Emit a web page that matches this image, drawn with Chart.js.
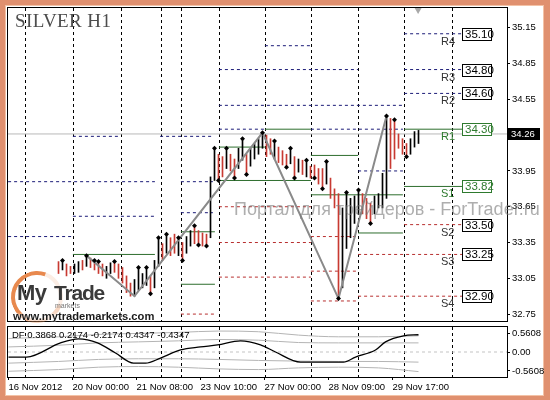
<!DOCTYPE html>
<html><head><meta charset="utf-8">
<script src="https://cdn.jsdelivr.net/npm/chart.js@4.4.1/dist/chart.umd.min.js"></script>
<style>
html,body{margin:0;padding:0;}
body{width:550px;height:400px;overflow:hidden;position:relative;background:#e0906f;font-family:"Liberation Sans",Arial,sans-serif;}
#inner{position:absolute;left:6px;top:6px;width:537px;height:389px;background:#fff;box-shadow:0 0 0 1px #f3c2a6;}
#c1{position:absolute;left:0;top:0;}
#c2{position:absolute;left:0;top:326px;}
.ov{position:absolute;white-space:nowrap;pointer-events:none;}
#title{left:15px;top:11px;font-family:"Liberation Serif","Times New Roman",serif;font-size:19px;line-height:19px;color:#4d4d4d;letter-spacing:0.4px;}
#wm{left:234px;top:200px;font-size:18px;line-height:18px;color:rgba(120,120,120,0.6);}
#ring{left:11px;top:271px;width:44px;height:44px;border-radius:50%;border:4px solid #e8894e;border-right-color:rgba(232,137,78,0.15);border-bottom-color:rgba(232,137,78,0.35);transform:rotate(-25deg);}
#my{left:17px;top:282px;font-size:22px;line-height:22px;font-weight:bold;color:#3a3a3a;letter-spacing:-0.5px;}
#trade{left:54px;top:282px;font-size:21px;line-height:22px;font-weight:bold;color:#3a3a3a;letter-spacing:-1.2px;}
#mk{left:55px;top:302px;font-size:7px;line-height:7px;color:#777;}
#www{left:13px;top:310px;font-size:11.2px;line-height:12px;font-weight:bold;color:#1a1a1a;text-shadow:0 0 2px #fff,0 0 2px #fff;}
#df{left:12px;top:330px;font-size:9.5px;line-height:10px;color:#000;}
</style></head>
<body>
<div id="inner"></div>
<canvas id="c1" width="550" height="325"></canvas>
<canvas id="c2" width="550" height="74"></canvas>
<div class="ov" id="title">SILVER H1</div>
<div class="ov" id="wm">Портал для трейдеров - ForTrader.ru</div>
<div class="ov" id="ring"></div>
<div class="ov" id="my">My</div>
<div class="ov" id="trade">Trade</div>
<div class="ov" id="mk">markets</div>
<div class="ov" id="www">www.mytrademarkets.com</div>
<div class="ov" id="df">DF 0.3868 0.2174 -0.2174 0.4347 -0.4347</div>
<script>
// ---------- data ----------
const X_MIN = -12.625, X_MAX = 112.125;
const barHigh = [33.19,33.20,33.17,33.15,33.17,33.19,33.20,33.24,33.22,33.20,
 33.19,33.17,33.15,33.18,33.19,33.17,33.14,33.07,33.01,33.04,
 33.14,33.09,33.14,33.07,33.20,33.39,33.34,33.42,33.39,33.42,
 33.39,33.35,33.40,33.45,33.49,33.45,33.43,33.42,33.90,34.14,
 34.09,34.07,34.14,34.09,34.05,34.14,34.22,34.09,34.14,34.18,
 34.22,34.27,34.25,34.22,34.20,34.15,34.12,34.09,34.14,34.07,
 34.05,34.04,34.04,33.99,34.00,33.97,33.97,34.03,33.89,33.80,
 33.76,33.64,33.77,33.72,33.74,33.79,33.76,33.72,33.68,33.74,
 33.76,33.93,34.41,34.39,34.38,34.26,34.22,34.18,34.22,34.28,
 34.29];
const barLow = [33.09,33.12,33.07,33.09,33.09,33.10,33.12,33.15,33.14,33.12,
 33.09,33.07,33.05,33.09,33.10,33.05,33.01,32.93,32.90,32.90,
 32.95,32.97,32.99,32.92,32.97,33.15,33.20,33.26,33.24,33.26,
 33.24,33.20,33.26,33.32,33.34,33.33,33.32,33.32,33.39,33.87,
 33.87,33.90,33.97,33.95,33.89,33.97,34.04,33.92,33.99,34.05,
 34.09,34.14,34.07,34.09,34.05,34.02,34.00,33.98,34.01,33.89,
 33.94,33.92,33.90,33.89,33.89,33.84,33.80,33.84,33.72,33.64,
 32.88,32.97,33.30,33.39,33.51,33.59,33.59,33.55,33.51,33.59,
 33.64,33.64,33.72,33.97,34.05,34.14,34.09,34.07,34.09,34.15,
 34.18];
const barRise = [0,1,0,0,1,1,0,1,0,0,
 0,0,1,1,0,0,0,0,0,1,
 1,1,1,0,1,1,0,1,0,0,
 1,0,1,1,0,0,0,0,1,1,
 0,0,1,0,0,1,1,0,1,1,
 1,1,0,0,1,0,0,0,1,0,
 1,0,1,0,0,0,0,1,0,0,
 0,1,1,1,1,1,0,0,0,1,
 1,1,1,0,0,0,0,0,1,1,
 1];
const lastPrice = 34.26;
const priceTicks = [35.15,34.85,34.55,33.95,33.65,33.35,33.05,32.75];
const daySeps = [-8.4,3.6,15.6,25.6,30.6,40.1,51.6,63.1,74.9,86.4,98.4];
const xTickPos = [-12.5,3.5,19.5,35.5,51.5,67.5,83.5];
const xTickLabels = ['16 Nov 2012','20 Nov 00:00','21 Nov 08:00','23 Nov 10:00','27 Nov 00:00','28 Nov 09:00','29 Nov 17:00'];

const resistSegs = [[-12.6,3.6,33.40],[-12.6,24.1,33.86],[3.6,15.6,34.24],[3.6,24.1,33.57],[25.4,38.6,34.24],[30.6,38.6,33.60],[30.6,38.6,33.86],[40.1,51.6,34.30],[40.1,86.1,34.50],[40.1,74.9,34.80],[51.6,63.1,35.00],[63.1,86.1,34.30],[74.9,86.1,33.95],[86.4,100.9,35.10],[86.4,100.9,34.80],[86.4,100.9,34.60]];
const pivotSegs = [[3.6,24.1,33.25],[30.6,39.1,33.44],[30.6,39.1,33.00],[40.1,51.6,34.15],[40.1,63.1,33.87],[51.6,63.1,34.30],[63.1,74.9,34.08],[63.1,86.1,33.75],[74.9,86.1,33.43],[86.4,100.9,34.30],[86.4,100.9,33.82]];
const supportSegs = [[30.6,39.1,32.75],[40.1,63.1,33.65],[40.1,63.1,33.35],[40.1,63.1,33.06],[63.1,74.9,33.40],[63.1,74.9,33.11],[63.1,74.9,32.86],[74.9,100.9,33.25],[74.9,100.9,32.90],[86.4,100.9,33.50]];

const levelVals = [35.10,34.80,34.60,34.30,33.82,33.50,33.25,32.90];
const levelNames = ['R4','R3','R2','R1','S1','S2','S3','S4'];
const levelBoxAt = 100.9, levelNameAt = 95.6;

const zzX = [7,19,51,70,82];
const zzY = [33.24,32.90,34.27,32.88,34.41];
const fracHiX = [1,7,9,10,14,20,22,25,27,30,34,39,42,46,51,54,58,62,67,72,75,82,84];
const fracHiY = [33.20,33.24,33.20,33.19,33.19,33.14,33.14,33.39,33.42,33.39,33.49,34.14,34.14,34.22,34.27,34.20,34.14,34.04,34.03,33.77,33.79,34.41,34.38];
const fracLoX = [23,31,35,37,40,44,47,57,59,64,66,70,78,87];
const fracLoY = [32.92,33.20,33.33,33.32,33.87,33.89,33.92,33.98,33.89,33.89,33.80,32.88,33.51,34.07];

const dfX = [-12.5,-8,0.5,5,9.75,14.25,18.75,21.75,25.5,30.5,35.5,39.75,45.5,50.5,54.25,60.5,71.25,74.25,79.25,81.75,86.25,90];
const dfY = [-0.15,-0.15,0.27,0.39,0.27,-0.03,-0.33,-0.33,-0.18,0.06,0.15,0.21,0.33,0.21,0.0,-0.30,-0.30,-0.15,0.06,0.30,0.48,0.51];
const bandX = [-12.5,0,10,20,30,40,50,60,70,80,90];
const bandUpperOuter = [0.40,0.45,0.52,0.55,0.58,0.62,0.60,0.50,0.45,0.45,0.48];
const bandUpperInner = [0.15,0.20,0.27,0.30,0.33,0.37,0.35,0.28,0.27,0.27,0.27];
const bandLowerInner = [-0.33,-0.28,-0.22,-0.20,-0.20,-0.22,-0.25,-0.27,-0.28,-0.28,-0.30];
const bandLowerOuter = [-0.57,-0.52,-0.45,-0.43,-0.45,-0.50,-0.52,-0.47,-0.45,-0.47,-0.58];
const dfTicks = [0.5608,0,-0.5608];

// ---------- chart ----------
const FONT = '"Liberation Sans", Arial, sans-serif';
Chart.defaults.font.family = FONT;

const segDatasets = [];
function addSegs(list, color, dash) {
  list.forEach(s => segDatasets.push({type:'line', data:[{x:s[0],y:s[2]},{x:s[1],y:s[2]}], borderColor:color, borderWidth:1, borderDash:dash, pointRadius:0, order:5}));
}
addSegs(resistSegs, '#1c1c78', [3,3]);
addSegs(pivotSegs, '#2e6e2e', []);
addSegs(supportSegs, '#b83030', [3,3]);

function drawSeps(chart) {
  const {ctx, chartArea:a, scales:{x}} = chart;
  ctx.save();
  ctx.strokeStyle = '#000'; ctx.lineWidth = 1; ctx.setLineDash([3,3]);
  daySeps.forEach(v => {
    const px = Math.round(x.getPixelForValue(v)) + 0.5;
    ctx.beginPath(); ctx.moveTo(px, a.top); ctx.lineTo(px, a.bottom); ctx.stroke();
  });
  ctx.restore();
}
function drawBorder(chart) {
  const {ctx, chartArea:a} = chart;
  ctx.save(); ctx.strokeStyle = '#000'; ctx.lineWidth = 1; ctx.setLineDash([]);
  ctx.strokeRect(a.left - 0.5, a.top - 0.5, a.right - a.left + 1, a.bottom - a.top + 1);
  ctx.restore();
}

const mainDeco = {
  id: 'mainDeco',
  beforeDatasetsDraw: drawSeps,
  afterDraw(chart) {
    drawBorder(chart);
    const {ctx, chartArea:a, scales:{x, y}} = chart;
    ctx.save();
    ctx.setLineDash([]); ctx.lineWidth = 1;
    ctx.textBaseline = 'middle'; ctx.textAlign = 'left';
    const bx = Math.round(x.getPixelForValue(levelBoxAt));
    const nx = Math.round(x.getPixelForValue(levelNameAt));
    levelVals.forEach((v, i) => {
      const py = Math.round(y.getPixelForValue(v));
      const green = levelNames[i] === 'R1' || levelNames[i] === 'S1';
      const col = green ? '#2e7a2e' : '#000';
      ctx.fillStyle = '#fff'; ctx.fillRect(bx, py - 6, 30, 13);
      ctx.strokeStyle = col; ctx.strokeRect(bx + 0.5, py - 5.5, 29, 12);
      ctx.font = '11.5px ' + FONT;
      ctx.fillStyle = col; ctx.fillText(v.toFixed(2), bx + 3, py + 1);
      ctx.font = '11px ' + FONT;
      ctx.fillStyle = green ? '#2e7a2e' : '#333';
      ctx.fillText(levelNames[i], nx, py + 8);
    });
    const cy = Math.round(y.getPixelForValue(lastPrice));
    ctx.fillStyle = '#000'; ctx.fillRect(a.right + 1, cy - 6, 32, 12);
    ctx.fillStyle = '#fff'; ctx.font = '9.5px ' + FONT;
    ctx.fillText(lastPrice.toFixed(2), a.right + 4, cy);
    ctx.restore();
  }
};

const datasets = [
  {type:'line', data: fracHiX.map((v,i)=>({x:v,y:fracHiY[i]})), showLine:false, pointStyle:'rectRot', pointRadius:2.5, pointBackgroundColor:'#000', pointBorderWidth:0, order:0},
  {type:'line', data: fracLoX.map((v,i)=>({x:v,y:fracLoY[i]})), showLine:false, pointStyle:'rectRot', pointRadius:2.5, pointBackgroundColor:'#000', pointBorderWidth:0, order:0},
  {type:'line', data: zzX.map((v,i)=>({x:v,y:zzY[i]})), borderColor:'#8a8a8a', borderWidth:2, pointRadius:0, tension:0, order:1},
  {type:'bar', data: barHigh.map((h,i)=>({x:i, y:[barLow[i], h]})), backgroundColor: barRise.map(r => r ? '#000' : '#c83a32'), barThickness:1, borderWidth:0, order:2},
  {type:'line', data:[{x:X_MIN,y:lastPrice},{x:X_MAX,y:lastPrice}], borderColor:'#b8b8b8', borderWidth:1, pointRadius:0, order:4},
  {type:'line', data:[{x:89.9,y:35.30}], showLine:false, pointStyle:'triangle', rotation:180, pointRadius:4, pointBackgroundColor:'#a8a8a8', pointBorderWidth:0, clip:false, order:0},
  ...segDatasets
];

new Chart(document.getElementById('c1'), {
  type: 'bar',
  data: { datasets },
  options: {
    responsive:false, animation:false, devicePixelRatio:1,
    layout:{padding:{left:8, top:8, right:0, bottom:1}},
    plugins:{legend:{display:false}, tooltip:{enabled:false}},
    scales:{
      x:{type:'linear', min:X_MIN, max:X_MAX, display:false, offset:false},
      y:{position:'right', min:32.692, max:35.316,
         afterFit: s => { s.width = 43; s.paddingTop = 0; s.paddingBottom = 0; },
         afterBuildTicks: s => { s.ticks = priceTicks.map(v => ({value:v})); },
         ticks:{color:'#000', font:{size:9.5}, padding:2, callback: v => Number(v).toFixed(2)},
         grid:{drawOnChartArea:false, drawTicks:true, tickLength:3, color:'#000'},
         border:{display:false}}
    }
  },
  plugins:[mainDeco]
});

const indDeco = { id:'indDeco', beforeDatasetsDraw: drawSeps, afterDraw: drawBorder };

function bandSet(vals) {
  return {data: bandX.map((v,i)=>({x:v,y:vals[i]})), borderColor:'#b4b4b4', borderWidth:1, pointRadius:0, cubicInterpolationMode:'monotone', order:2};
}
new Chart(document.getElementById('c2'), {
  type:'line',
  data:{datasets:[
    {data: dfX.map((v,i)=>({x:v,y:dfY[i]})), borderColor:'#000', borderWidth:1.3, pointRadius:0, cubicInterpolationMode:'monotone', order:0},
    {data:[{x:X_MIN,y:0},{x:X_MAX,y:0}], borderColor:'#c4c4c4', borderWidth:1, borderDash:[3,3], pointRadius:0, order:3},
    bandSet(bandUpperOuter), bandSet(bandUpperInner), bandSet(bandLowerInner), bandSet(bandLowerOuter)
  ]},
  options:{
    responsive:false, animation:false, devicePixelRatio:1,
    layout:{padding:{left:8, top:1, right:0, bottom:0}},
    plugins:{legend:{display:false}, tooltip:{enabled:false}},
    scales:{
      x:{type:'linear', min:X_MIN, max:X_MAX, offset:false,
         afterFit: s => { s.height = 23; s.paddingLeft = 0; s.paddingRight = 0; },
         afterBuildTicks: s => { s.ticks = xTickPos.map(v => ({value:v})); },
         ticks:{color:'#000', font:{size:9.5}, align:'start', autoSkip:false, maxRotation:0, padding:2,
                callback:(v, i) => xTickLabels[i]},
         grid:{drawOnChartArea:false, drawTicks:true, tickLength:3, color:'#000'},
         border:{display:false}},
      y:{position:'right', min:-0.74, max:0.74,
         afterFit: s => { s.width = 43; s.paddingTop = 0; s.paddingBottom = 0; },
         afterBuildTicks: s => { s.ticks = dfTicks.map(v => ({value:v})); },
         ticks:{color:'#000', font:{size:9.5}, padding:2, callback: v => (v === 0 ? '0.00' : Number(v).toFixed(4))},
         grid:{drawOnChartArea:false, drawTicks:true, tickLength:3, color:'#000'},
         border:{display:false}}
    }
  },
  plugins:[indDeco]
});
</script>
</body></html>
